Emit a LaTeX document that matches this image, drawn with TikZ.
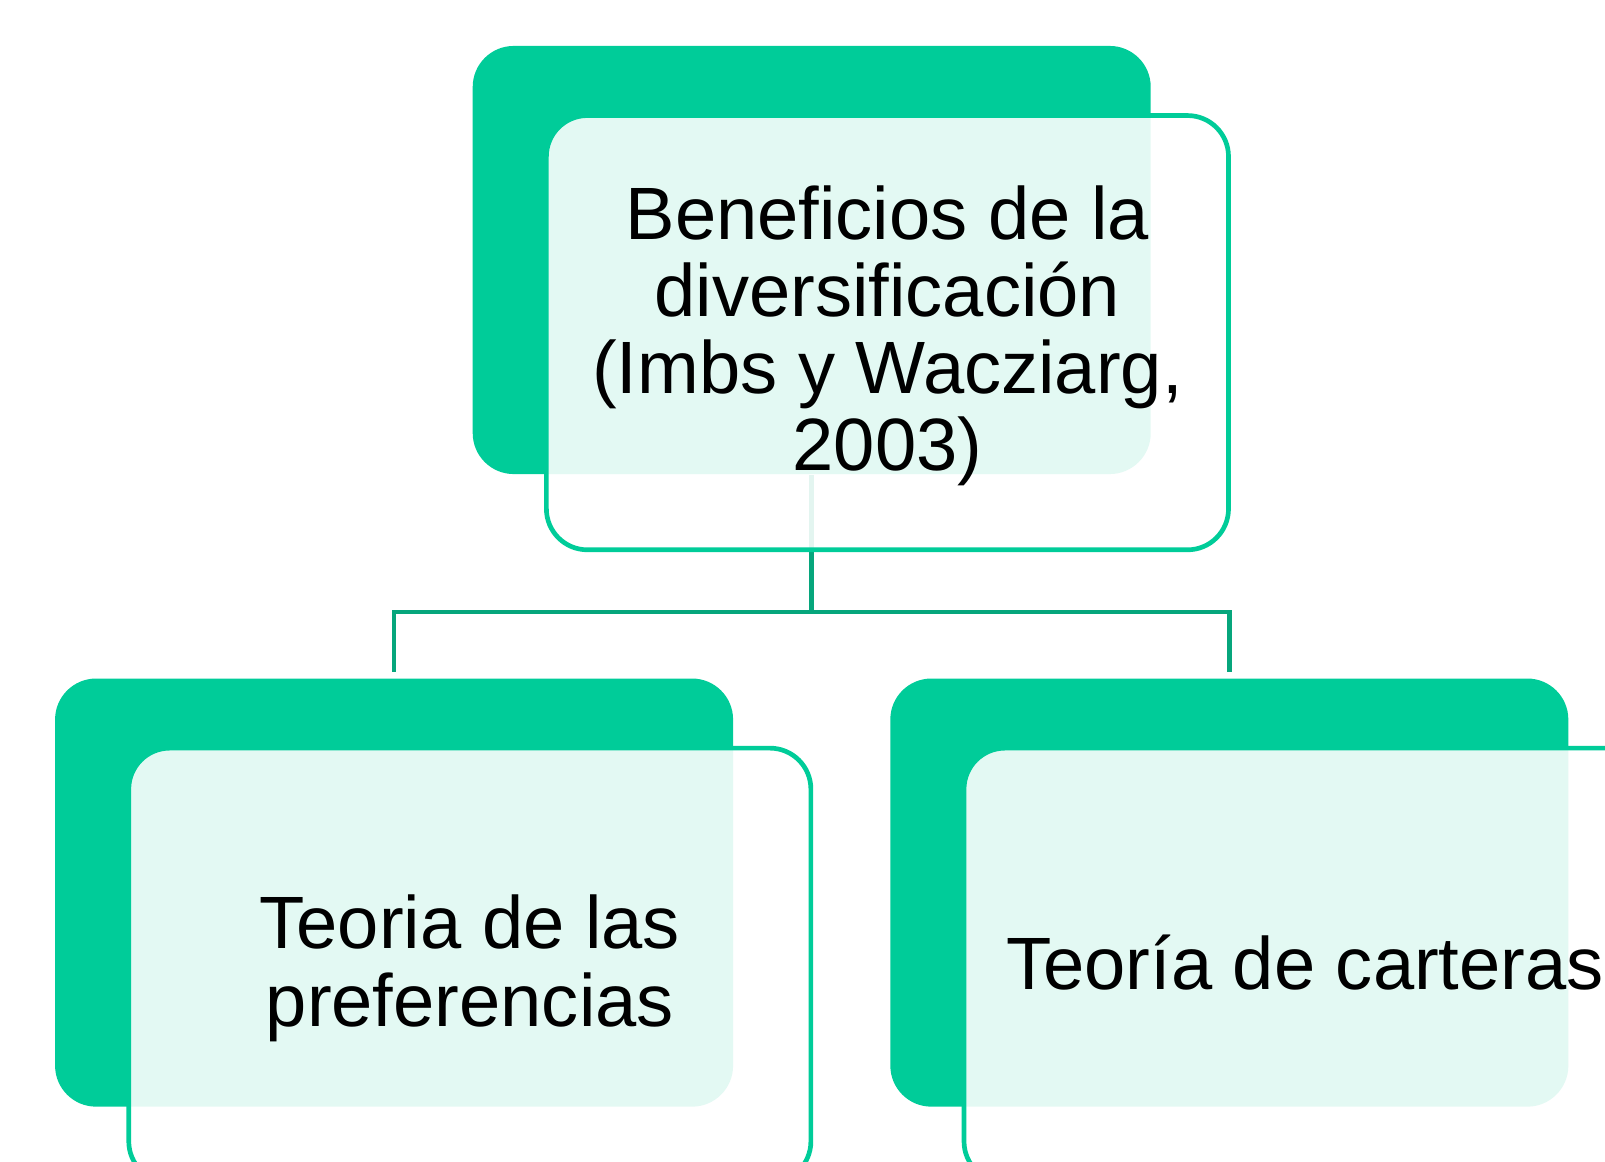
\documentclass[tikz,border=0pt]{standalone}
\usepackage{fontspec}
\setmainfont{Liberation Sans}
\definecolor{mint}{RGB}{0,204,153}
\definecolor{linkc}{RGB}{6,166,124}
\tikzset{
  backbox/.style={draw=none, fill=mint, rounded corners=0.40cm, minimum width=6.62cm, minimum height=4.18cm, inner sep=0pt},
  frontbox/.style={draw=mint, line width=1.3pt, fill=white, fill opacity=0.89, text opacity=1, draw opacity=1, rounded corners=0.40cm, minimum width=6.66cm, minimum height=4.24cm, inner sep=0pt, align=center, font=\fontsize{20.6}{21.4}\selectfont},
  linkline/.style={draw=linkc, line width=1.3pt}
}
\begin{document}
\begin{tikzpicture}[x=0.01cm,y=-0.01cm]
\useasboundingbox (0,0) rectangle (1568,1135);
\clip (0,0) rectangle (1568,1135);
% back boxes
\node[backbox] (topback) at (793,254) {};
\node[backbox] (leftback) at (385,872) {};
\node[backbox] (rightback) at (1201,872) {};
% connectors
\coordinate (hub) at (793,598);
\draw[linkline] (topback.south) -- (hub);
\draw[linkline, shorten >=0.06cm] (hub) -| (leftback.north);
\draw[linkline, shorten >=0.06cm] (hub) -| (rightback.north);
% front boxes
\node[frontbox] (topfront) at (867,325) {};
\node[frontbox, draw=none, fill=none] (toptext) at (867,328) {Beneficios de la\\diversificación\\(Imbs y Wacziarg,\\2003)};
\node[frontbox] (leftfront) at (459,943) {};
\node[frontbox, draw=none, fill=none] (lefttext) at (459,946) {Teoria de las\\preferencias};
\node[frontbox] (rightfront) at (1275,943) {};
\node[frontbox, draw=none, fill=none] (righttext) at (1275,940) {Teoría de carteras};
\end{tikzpicture}
\end{document}
